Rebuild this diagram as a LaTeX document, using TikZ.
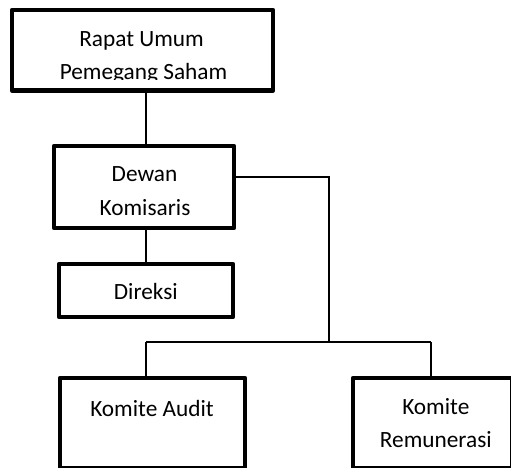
\documentclass[tikz,border=0pt]{standalone}
\usepackage{fontspec}
\setmainfont{Carlito}
\begin{document}
\begin{tikzpicture}[x=1pt,y=-1pt,
  orgbox/.style={draw=black, line width=4.5pt, line join=round, rectangle, inner sep=0pt, outer sep=0pt, fill=white},
  link/.style={draw=black, line width=1.5pt},
  lbl/.style={inner sep=0pt, anchor=base, font=\fontsize{23.3}{34}\selectfont}]
\clip (0,0) rectangle (511,468);
\fill[white] (0,0) rectangle (511,468);
% junction coordinates
\coordinate (vx) at (146,0);
\coordinate (j1) at (329,177);
\coordinate (j2) at (329,342);
\coordinate (j3) at (146,342);
\coordinate (j4) at (431,342);
% boxes
\node[orgbox, minimum width=261pt, minimum height=80.5pt] (rups) at (142.5,50.25) {};
\node[orgbox, minimum width=180pt, minimum height=82pt] (dk) at (144,187) {};
\node[orgbox, minimum width=174pt, minimum height=53pt] (dir) at (146,290.5) {};
\node[orgbox, minimum width=185pt, minimum height=90pt] (ka) at (152.5,423) {};
\node[orgbox, minimum width=159pt, minimum height=90pt] (kr) at (432.5,423) {};
% connectors
\draw[link] (rups.south -| vx) -- (dk.north -| vx);
\draw[link] (dk.south -| vx) -- (dir.north -| vx);
\draw[link] (dk.east |- j1) -- (j1) -- (j2);
\draw[link] (j3) -- (j4);
\draw[link] (j3) -- (ka.north -| j3);
\draw[link] (j4) -- (kr.north -| j4);
% labels
\node[lbl] (t1a) at (141.5,46.5) {Rapat Umum};
\begin{scope}
\clip (0,0) rectangle (511,80);
\node[lbl] (t1b) at (143.5,79.5) {Pemegang Saham};
\end{scope}
\node[lbl] (t2a) at (144.5,181.7) {Dewan};
\node[lbl] (t2b) at (145,215.7) {Komisaris};
\node[lbl] (t3) at (145.8,299.3) {Direksi};
\node[lbl] (t4) at (152,416) {Komite Audit};
\node[lbl] (t5a) at (435.8,414) {Komite};
\node[lbl] (t5b) at (435.8,447.3) {Remunerasi};
\end{tikzpicture}
\end{document}
